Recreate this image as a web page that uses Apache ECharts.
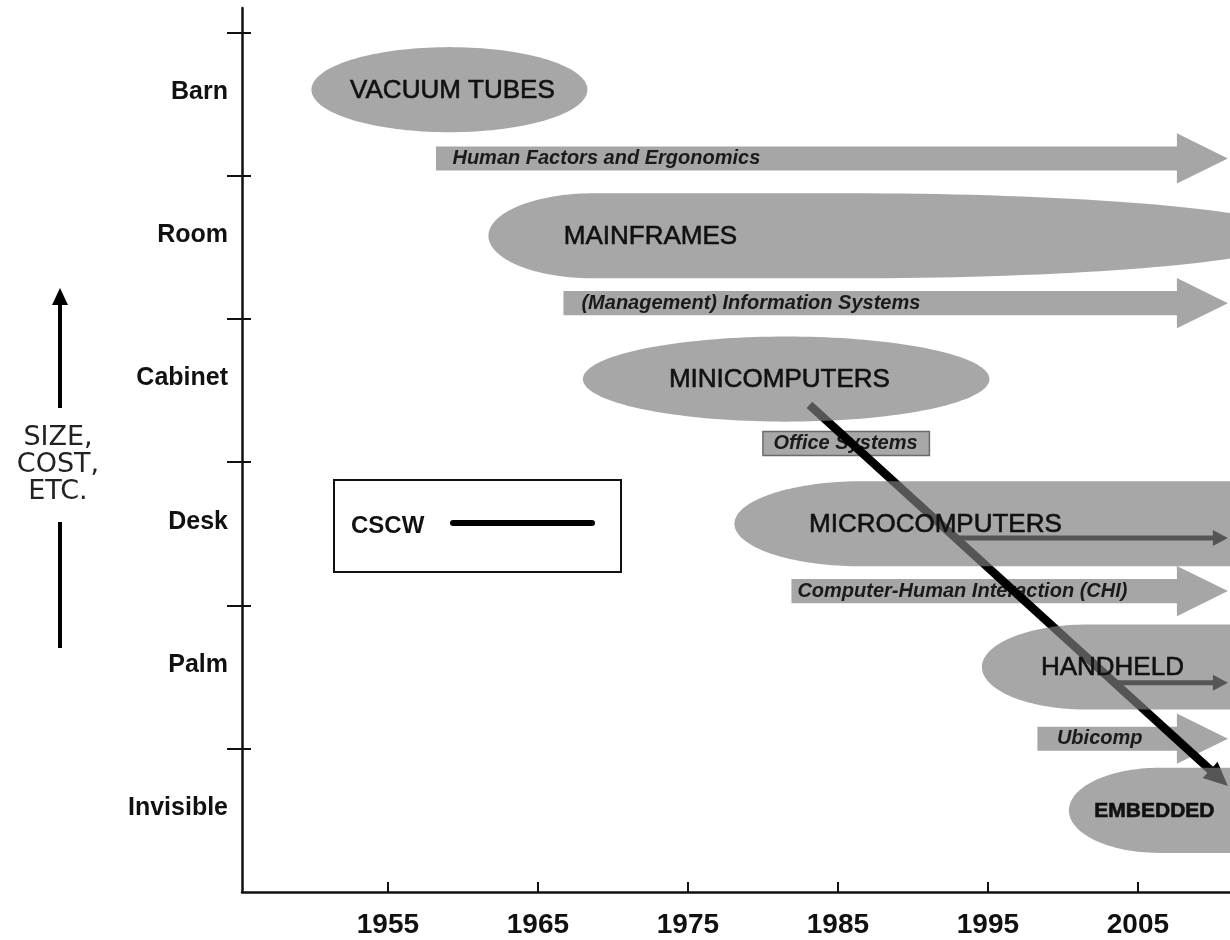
<!DOCTYPE html>
<html>
<head>
<meta charset="utf-8">
<script src="https://cdn.jsdelivr.net/npm/echarts@6/dist/echarts.min.js"></script>
<style>
  html, body { margin: 0; padding: 0; background: #fff; }
  #chart { width: 1230px; height: 940px; }
</style>
</head>
<body>
<div id="chart"></div>
<script>
// ---------------- DATA ----------------
const yLevels = ['Invisible', 'Palm', 'Desk', 'Cabinet', 'Room', 'Barn'];
const yearTicks = [1955, 1965, 1975, 1985, 1995, 2005];

// computing eras (blobs)
const eraNames = ['VACUUM TUBES', 'MAINFRAMES', 'MINICOMPUTERS', 'MICROCOMPUTERS', 'HANDHELD', 'EMBEDDED'];
const eraStart = [1949.9, 1961.7, 1968.0, 1978.1, 1994.6, 2000.4];
const eraEnd   = [1968.3, 2015.8, 1995.1, 2016.0, 2016.0, 2016.0];
const eraLevel = [5.60, 4.58, 3.58, 2.57, 1.57, 0.57];
const eraLabelYear = [1959.3, 1972.5, 1981.1, 1991.5, 2003.3, 2006.1];

// research fields (arrows)
const flowNames = ['Human Factors and Ergonomics', '(Management) Information Systems', 'Office Systems', 'Computer-Human Interaction (CHI)', 'Ubicomp'];
const flowStart = [1958.2, 1966.7, 1980.0, 1981.9, 1998.3];
const flowEnd   = [2011.0, 2011.0, 1991.1, 2011.0, 2011.0];
const flowLevel = [5.12, 4.11, 3.13, 2.10, 1.07];
const flowLabelYear = [1959.3, 1967.9, 1980.7, 1982.3, 1999.6];
const flowHasHead = [true, true, false, true, true];

// trend arrows inside eras
const trendStart = [[1992.8, 2.47], [2003.3, 1.46]];
const trendEnd   = [[2011.0, 2.47], [2011.0, 1.46]];

// CSCW line
const cscwStart = [1983.1, 3.40];
const cscwEnd   = [2011.0, 0.74];

// ---------------- STYLE ----------------
const FONT = '"Liberation Sans", Arial, sans-serif';
const eraShape = ['ellipse', 'tail', 'ellipse', 'bar', 'bar', 'bar'];
const eraRoundL = [0, 7, 0, 8.5, 7, 6];
const eraRoundR = [0, 30, 0, 0, 0, 0];
const eraFont = ['26px', '26px', '26px', '26px', '26px', 'bold 21px'];
const ERA_HALF = 0.297;
const FLOW_HALF = 0.084;
const HEAD_HALF = 0.175;
const HEAD_LEN = 51;

const chart = echarts.init(document.getElementById('chart'));

function renderEra(params, api) {
  const i = params.dataIndex;
  const x0 = api.value(0), x1 = api.value(1), lv = api.value(2);
  const pL = api.coord([x0, lv]);
  const pR = api.coord([x1, lv]);
  const ry = api.size([0, ERA_HALF])[1];
  const kind = eraShape[i];
  let rl, rr;
  if (kind === 'ellipse') {
    rl = rr = (pR[0] - pL[0]) / 2;
  } else {
    rl = api.size([eraRoundL[i], 0])[0];
    rr = api.size([eraRoundR[i], 0])[0];
  }
  const cy = pL[1];
  const cxR = pR[0] - rr, cxL = pL[0] + rl;
  const pts = [];
  const N = 80;
  for (let k = 0; k <= N; k++) {
    const t = -Math.PI / 2 + Math.PI * k / N;
    pts.push([cxR + rr * Math.cos(t), cy + ry * Math.sin(t)]);
  }
  for (let k = 0; k <= N; k++) {
    const t = Math.PI / 2 + Math.PI * k / N;
    pts.push([cxL + rl * Math.cos(t), cy + ry * Math.sin(t)]);
  }
  const lp = api.coord([eraLabelYear[i], lv]);
  return {
    type: 'group',
    children: [
      { type: 'polygon', shape: { points: pts }, style: { fill: 'rgba(125,125,125,0.68)' } },
      { type: 'text', x: lp[0], y: lp[1] + 1,
        style: { text: eraNames[i], fill: '#111', font: eraFont[i] + ' ' + FONT, align: 'center', verticalAlign: 'middle',
                 stroke: '#111', lineWidth: 0.6 } }
    ]
  };
}

function renderFlow(params, api) {
  const i = params.dataIndex;
  const x0 = api.value(0), x1 = api.value(1), lv = api.value(2);
  const p0 = api.coord([x0, lv]);
  const p1 = api.coord([x1, lv]);
  const bh = api.size([0, FLOW_HALF])[1];
  const hh = api.size([0, HEAD_HALF])[1];
  const cy = p0[1];
  const lp = api.coord([flowLabelYear[i], lv]);
  const children = [];
  if (flowHasHead[i]) {
    const xb = p1[0] - HEAD_LEN;
    children.push({ type: 'polygon', shape: { points: [
      [p0[0], cy - bh], [xb, cy - bh], [xb, cy - hh], [p1[0], cy], [xb, cy + hh], [xb, cy + bh], [p0[0], cy + bh]
    ] }, style: { fill: '#a6a6a6' } });
  } else {
    children.push({ type: 'rect', shape: { x: p0[0], y: cy - bh, width: p1[0] - p0[0], height: 2 * bh },
      style: { fill: '#a8a8a8', stroke: '#6a6a6a', lineWidth: 1.5 } });
  }
  children.push({ type: 'text', x: lp[0], y: cy,
    style: { text: flowNames[i], fill: '#1a1a1a', font: 'italic bold 20px ' + FONT, align: 'left', verticalAlign: 'middle' } });
  return { type: 'group', children };
}

function arrowGroup(a, b, width, headLen, headHalf, color) {
  const dx = b[0] - a[0], dy = b[1] - a[1];
  const L = Math.sqrt(dx * dx + dy * dy);
  const ux = dx / L, uy = dy / L;
  const nx = -uy, ny = ux;
  const bx = b[0] - ux * headLen, by = b[1] - uy * headLen;
  return {
    type: 'group',
    children: [
      { type: 'line', shape: { x1: a[0], y1: a[1], x2: bx + ux * 2, y2: by + uy * 2 },
        style: { stroke: color, lineWidth: width } },
      { type: 'polygon', shape: { points: [[b[0], b[1]], [bx + nx * headHalf, by + ny * headHalf], [bx - nx * headHalf, by - ny * headHalf]] },
        style: { fill: color } }
    ]
  };
}

function renderTrend(params, api) {
  const a = api.coord([api.value(0), api.value(1)]);
  const b = api.coord([api.value(2), api.value(3)]);
  return arrowGroup(a, b, 5, 15, 8, '#000');
}

function renderCscw(params, api) {
  const a = api.coord([api.value(0), api.value(1)]);
  const b = api.coord([api.value(2), api.value(3)]);
  return arrowGroup(a, b, 8.5, 24, 11, '#000');
}

const option = {
  backgroundColor: '#fff',
  animation: false,
  grid: { left: 242, right: 0, top: 8, bottom: 48, outerBoundsMode: 'none', containLabel: false },
  xAxis: {
    type: 'value', min: 1945.27, max: 2011.14,
    axisLine: { show: true, lineStyle: { color: '#111', width: 2.5 } },
    axisTick: { show: true, inside: true, length: 10, customValues: yearTicks, lineStyle: { color: '#111', width: 2 } },
    axisLabel: { show: true, customValues: yearTicks, margin: 19, color: '#111',
      fontSize: 28, fontWeight: 'bold', fontFamily: FONT, formatter: v => String(Math.round(v)) },
    splitLine: { show: false }
  },
  yAxis: [{
    type: 'value', min: 0, max: 6.17,
    axisLine: { show: true, lineStyle: { color: '#111', width: 2.5 } },
    axisTick: { show: true, length: 15, customValues: [1, 2, 3, 4, 5, 6], lineStyle: { color: '#111', width: 2 } },
    axisLabel: { show: true, customValues: [0.585, 1.585, 2.585, 3.585, 4.585, 5.585], margin: 14, color: '#111',
      fontSize: 25, fontWeight: 'bold', fontFamily: FONT,
      formatter: v => yLevels[Math.floor(v)] },
    splitLine: { show: false }
  }, {
    type: 'value', min: 0, max: 6.17, position: 'left',
    axisLine: { show: false },
    axisTick: { show: true, inside: true, length: 9, customValues: [1, 2, 3, 4, 5, 6], lineStyle: { color: '#111', width: 2 } },
    axisLabel: { show: false },
    splitLine: { show: false }
  }],
  series: [
    {
      name: 'fields', type: 'custom', z: 1, clip: true,
      renderItem: renderFlow,
      encode: { x: [0, 1], y: 2 },
      data: flowNames.map((n, i) => [flowStart[i], flowEnd[i], flowLevel[i]])
    },
    {
      name: 'trends', type: 'custom', z: 2, clip: false,
      renderItem: renderTrend,
      encode: { x: [0, 2], y: [1, 3] },
      data: trendStart.map((s, i) => [s[0], s[1], trendEnd[i][0], trendEnd[i][1]])
    },
    {
      name: 'CSCW', type: 'custom', z: 3, clip: false,
      renderItem: renderCscw,
      encode: { x: [0, 2], y: [1, 3] },
      data: [[cscwStart[0], cscwStart[1], cscwEnd[0], cscwEnd[1]]]
    },
    {
      name: 'eras', type: 'custom', z: 4, clip: true,
      renderItem: renderEra,
      encode: { x: [0, 1], y: 2 },
      data: eraNames.map((n, i) => [eraStart[i], eraEnd[i], eraLevel[i]])
    }
  ],
  graphic: [
    { type: 'rect', z: 10, shape: { x: 334, y: 480, width: 287, height: 92 }, style: { fill: '#fff', stroke: '#111', lineWidth: 2 } },
    { type: 'text', z: 11, x: 351, y: 526, style: { text: 'CSCW', font: 'bold 24px ' + FONT, fill: '#111', verticalAlign: 'middle' } },
    { type: 'line', z: 11, shape: { x1: 453, y1: 523, x2: 592, y2: 523 }, style: { stroke: '#000', lineWidth: 6, lineCap: 'round' } },
    { type: 'line', z: 10, shape: { x1: 60, y1: 300, x2: 60, y2: 408 }, style: { stroke: '#000', lineWidth: 4 } },
    { type: 'polygon', z: 10, shape: { points: [[60, 288], [52, 305], [68, 305]] }, style: { fill: '#000' } },
    { type: 'line', z: 10, shape: { x1: 60, y1: 522, x2: 60, y2: 648 }, style: { stroke: '#000', lineWidth: 4 } },
    { type: 'text', z: 10, x: 58, y: 465, style: { text: 'SIZE,\nCOST,\nETC.', font: '27px "DejaVu Sans", sans-serif', lineHeight: 27, align: 'center', verticalAlign: 'middle', fill: '#222' } }
  ]
};
chart.setOption(option);
</script>
</body>
</html>
